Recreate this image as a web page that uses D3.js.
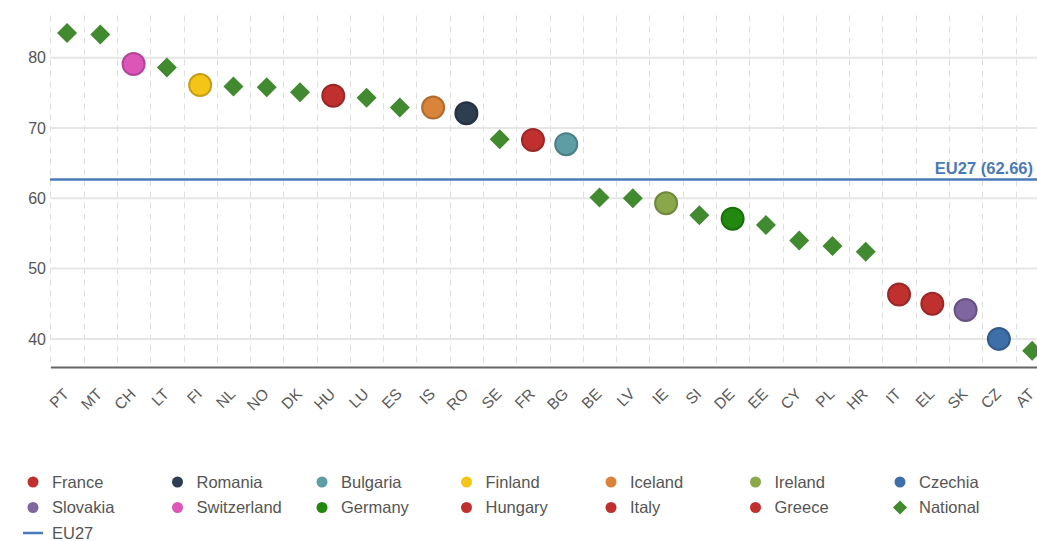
<!DOCTYPE html>
<html>
<head>
<meta charset="utf-8">
<script src="https://cdn.jsdelivr.net/npm/d3@7"></script>
<style>
  body { margin: 0; background: #fff; }
  svg { display: block; font-family: Arial, "Liberation Sans", sans-serif; }
</style>
</head>
<body>
<svg id="chart" width="1037" height="541"></svg>
<script>
// country codes, left to right
var codes = ["PT", "MT", "CH", "LT", "FI", "NL", "NO", "DK", "HU", "LU", "ES", "IS", "RO", "SE", "FR",
             "BG", "BE", "LV", "IE", "SI", "DE", "EE", "CY", "PL", "HR", "IT", "EL", "SK", "CZ", "AT"];
var values = [83.5, 83.3, 79.1, 78.6, 76.1, 75.9, 75.8, 75.1, 74.6, 74.3, 72.9, 72.9, 72.1, 68.4, 68.3,
              67.7, 60.1, 60.0, 59.3, 57.6, 57.1, 56.2, 54.0, 53.2, 52.4, 46.3, 45.0, 44.1, 40.0, 38.3];
// which series each point belongs to (National = diamond)
var series = ["National", "National", "Switzerland", "National", "Finland", "National", "National", "National",
              "Hungary", "National", "National", "Iceland", "Romania", "National", "France", "Bulgaria",
              "National", "National", "Ireland", "National", "Germany", "National", "National", "National",
              "National", "Italy", "Greece", "Slovakia", "Czechia", "National"];
var eu27 = 62.66;
var yTicks = [40, 50, 60, 70, 80];

var legendNames = ["France", "Romania", "Bulgaria", "Finland", "Iceland", "Ireland", "Czechia",
                   "Slovakia", "Switzerland", "Germany", "Hungary", "Italy", "Greece", "National", "EU27"];
var legendColors = ["#c0302f", "#2c3e50", "#5d9ea5", "#f4c417", "#d9843a", "#8aa84a", "#3e6fa8",
                    "#7f66a0", "#dc55b8", "#23880f", "#c0302f", "#c0302f", "#c0302f", "#418a2f", "#4a7ab8"];

var color = d3.scaleOrdinal().domain(legendNames).range(legendColors);

var svg = d3.select("#chart");

var x = d3.scaleBand().domain(codes).range([50.4, 1048.8]);
var y = d3.scaleLinear().domain([36, 86]).range([367, 15.5]);

// grid
var grid = svg.append("g");
grid.selectAll(".vgrid")
    .data(codes)
    .enter()
    .append("line")
    .attr("x1", function (d) { return Math.round(x(d)) + 0.5; })
    .attr("x2", function (d) { return Math.round(x(d)) + 0.5; })
    .attr("y1", y(86))
    .attr("y2", y(36))
    .attr("stroke", "#dedede")
    .attr("stroke-dasharray", "6,5");

grid.selectAll(".hgrid")
    .data(yTicks)
    .enter()
    .append("line")
    .attr("x1", 50)
    .attr("x2", 1037)
    .attr("y1", function (d) { return y(d); })
    .attr("y2", function (d) { return y(d); })
    .attr("stroke", "#e6e6e6")
    .attr("stroke-width", 2);

// y axis labels
var yAxis = svg.append("g")
    .attr("transform", "translate(50,0)")
    .call(d3.axisLeft(y).tickValues(yTicks).tickSize(0).tickPadding(4));
yAxis.select(".domain").remove();
yAxis.selectAll("text")
    .attr("fill", "#555")
    .attr("font-size", "16px")
    .attr("font-family", "Arial, 'Liberation Sans', sans-serif");

// x axis
var xAxis = svg.append("g")
    .attr("transform", "translate(0," + y(36) + ")")
    .call(d3.axisBottom(x).tickSize(0).tickPadding(0));
xAxis.select(".domain")
    .attr("stroke", "#666")
    .attr("stroke-width", 2);
xAxis.selectAll("text")
    .attr("fill", "#5a5a5a")
    .attr("font-size", "15.5px")
    .attr("font-family", "Arial, 'Liberation Sans', sans-serif")
    .attr("text-anchor", "end")
    .attr("dy", "0")
    .attr("transform", "translate(3,28) rotate(-45)");

// EU27 line
svg.append("line")
    .attr("x1", 50)
    .attr("x2", 1037)
    .attr("y1", y(eu27))
    .attr("y2", y(eu27))
    .attr("stroke", color("EU27"))
    .attr("stroke-width", 2.5);

svg.append("text")
    .attr("x", 1033)
    .attr("y", y(eu27) - 6)
    .attr("text-anchor", "end")
    .attr("font-size", "16.5px")
    .attr("font-weight", "bold")
    .attr("fill", color("EU27"))
    .text("EU27 (" + eu27.toFixed(2) + ")");

// points
var points = codes.map(function (c, i) {
    return {code: c, value: values[i], series: series[i]};
});

var marks = svg.append("g");
marks.selectAll(".dot")
    .data(points.filter(function (d) { return d.series !== "National"; }))
    .enter()
    .append("circle")
    .attr("cx", function (d) { return x(d.code) + x.bandwidth() / 2; })
    .attr("cy", function (d) { return y(d.value); })
    .attr("r", 11)
    .attr("fill", function (d) { return color(d.series); })
    .attr("stroke", function (d) { return d3.color(color(d.series)).darker(0.6); })
    .attr("stroke-width", 2);

var diamond = d3.symbol().type(d3.symbolSquare).size(200);
marks.selectAll(".nat")
    .data(points.filter(function (d) { return d.series === "National"; }))
    .enter()
    .append("path")
    .attr("d", diamond)
    .attr("transform", function (d) {
        return "translate(" + (x(d.code) + x.bandwidth() / 2) + "," + y(d.value) + ") rotate(45)";
    })
    .attr("fill", color("National"));

// legend
var legend = svg.append("g");
var items = legend.selectAll(".item")
    .data(legendNames)
    .enter()
    .append("g")
    .attr("transform", function (d, i) {
        return "translate(" + (33 + (i % 7) * 144.5) + "," + (482 + Math.floor(i / 7) * 25.5) + ")";
    });

items.each(function (d) {
    var g = d3.select(this);
    if (d === "National") {
        g.append("path")
            .attr("d", d3.symbol().type(d3.symbolSquare).size(100))
            .attr("transform", "rotate(45)")
            .attr("fill", color(d));
    } else if (d === "EU27") {
        g.append("line")
            .attr("x1", -10).attr("x2", 10)
            .attr("stroke", color(d))
            .attr("stroke-width", 2.5);
    } else {
        g.append("circle")
            .attr("r", 5.5)
            .attr("fill", color(d));
    }
    g.append("text")
        .attr("x", 19)
        .attr("dy", "0.36em")
        .attr("font-size", "16.5px")
        .attr("fill", "#555")
        .text(d);
});
</script>
</body>
</html>
